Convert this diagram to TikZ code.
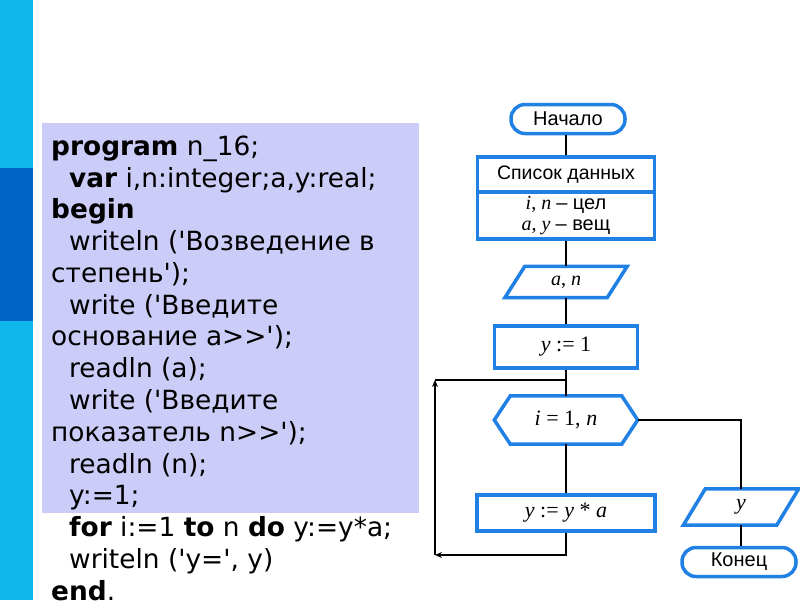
\documentclass[tikz,border=0pt]{standalone}
\usepackage{fontspec}
\setmainfont{Liberation Serif}
\newfontfamily\codefont[Ligatures=TeXOff]{DejaVu Sans}
\newfontfamily\fsans{Liberation Sans}
\usetikzlibrary{arrows.meta}
\definecolor{barcyan}{RGB}{14,184,236}
\definecolor{bardark}{RGB}{0,100,196}
\definecolor{codebg}{RGB}{204,204,248}
\definecolor{fblue}{RGB}{32,128,228}
\newcommand{\q}{\textquotesingle}
\begin{document}
\begin{tikzpicture}[x=1pt,y=-1pt,
  codeline/.style={anchor=base west, inner sep=0pt, font=\codefont\fontsize{26.4}{30}\selectfont},
  blk/.style={draw=fblue, line width=3.5pt, fill=white, inner sep=0pt},
  term/.style={blk, rounded corners=14pt, minimum width=114pt, minimum height=29pt, font=\fsans\fontsize{20}{22}\selectfont},
  proc/.style={blk, font=\fontsize{22}{24}\selectfont},
  shp/.style={inner sep=0pt, font=\fontsize{22}{24}\selectfont},
  outline/.style={draw=fblue, line width=3.5pt, line join=miter, fill=white},
  conn/.style={line width=2.2pt, black},
  tip/.style={-{Stealth[length=7pt,width=6pt]}}
  ]
\useasboundingbox (0,0) rectangle (800,600);
\fill[white] (0,0) rectangle (800,600);
% left bar
\fill[barcyan] (0,0) rectangle (33,600);
\fill[bardark] (0,168) rectangle (33,321);
% code panel
\fill[codebg] (42,123) rectangle (419,513);
\node[codeline] (c1) at (51,155) {\textbf{program} n\_16;};
\node[codeline] (c2) at (69,187) {\textbf{var} i,n:integer;a,y:real;};
\node[codeline] (c3) at (51,218.6) {\textbf{begin}};
\node[codeline] (c4) at (69,250.4) {writeln (\q Возведение в};
\node[codeline] (c5) at (51,282.2) {степень\q);};
\node[codeline] (c6) at (69,314) {write (\q Введите};
\node[codeline] (c7) at (51,345.8) {основание a>>\q);};
\node[codeline] (c8) at (69,377.6) {readln (a);};
\node[codeline] (c9) at (69,409.4) {write (\q Введите};
\node[codeline] (c10) at (51,441.2) {показатель n>>\q);};
\node[codeline] (c11) at (69,473) {readln (n);};
\node[codeline] (c12) at (69,504.8) {y:=1;};
\node[codeline] (c13) at (69,536.6) {\textbf{for} i:=1 \textbf{to} n \textbf{do} y:=y*a;};
\node[codeline] (c14) at (69,568.4) {writeln (\q y=\q, y)};
\node[codeline] (c15) at (51,600.2) {\textbf{end}.};
% flowchart
\node[term] (start) at (568,119) {Начало};
\node[blk, minimum width=177pt, minimum height=35pt, font=\fsans\fontsize{19.5}{22}\selectfont] (dhead) at (566,174.5) {Список данных};
\node[blk, minimum width=177pt, minimum height=47pt, align=center, font=\fontsize{20}{21}\selectfont] (dbody) at (566,215.5) {\textit{i}, \textit{n} {\fsans – цел}\\ \textit{a}, \textit{y} {\fsans – вещ}};
% input parallelogram
\node[shp, minimum width=122pt, minimum height=31pt] (inp) at (566,282) {};
\draw[outline] ([xshift=20pt]inp.north west) -- (inp.north east) -- ([xshift=-20pt]inp.south east) -- (inp.south west) -- cycle;
\node[shp, font=\fontsize{20}{22}\selectfont] (inptxt) at (inp.center) {\textit{a}, \textit{n}};
\node[proc, minimum width=143pt, minimum height=42pt] (init) at (566,347) {\textit{y} := 1};
% loop hexagon
\node[shp, minimum width=143pt, minimum height=48pt] (loop) at (566,420) {};
\draw[outline] (loop.west) -- ([xshift=16pt]loop.north west) -- ([xshift=-16pt]loop.north east) -- (loop.east) -- ([xshift=-16pt]loop.south east) -- ([xshift=16pt]loop.south west) -- cycle;
\node[shp] (looptxt) at (loop.center) {\textit{i} = 1, \textit{n}};
\node[proc, minimum width=178pt, minimum height=36pt] (body) at (566,513) {\textit{y} := \textit{y} * \textit{a}};
% output parallelogram
\node[shp, minimum width=115pt, minimum height=36pt] (out) at (741,507) {};
\draw[outline] ([xshift=22pt]out.north west) -- (out.north east) -- ([xshift=-22pt]out.south east) -- (out.south west) -- cycle;
\node[shp] (outtxt) at (out.center) {\textit{y}};
\node[term] (stop) at (739,562) {Конец};
% connectors
\coordinate (lt) at (435,380);
\coordinate (lb) at (435,555);
\coordinate (jn) at (566,380);
\draw[conn] (start.south -| dhead.north) -- (dhead.north);
\draw[conn] (dbody.south) -- (inp.north);
\draw[conn] (inp.south) -- (init.north);
\draw[conn] (init.south) -- (loop.north);
\draw[conn] (loop.south) -- (body.north);
\draw[conn] (loop.east) -| (out.north);
\draw[conn] (out.south) -- (out.south |- stop.north);
\draw[conn, tip] (body.south) |- (lb);
\draw[conn, tip] (lb) -- (lt);
\draw[conn] (lt) -- (jn);
\end{tikzpicture}
\end{document}
